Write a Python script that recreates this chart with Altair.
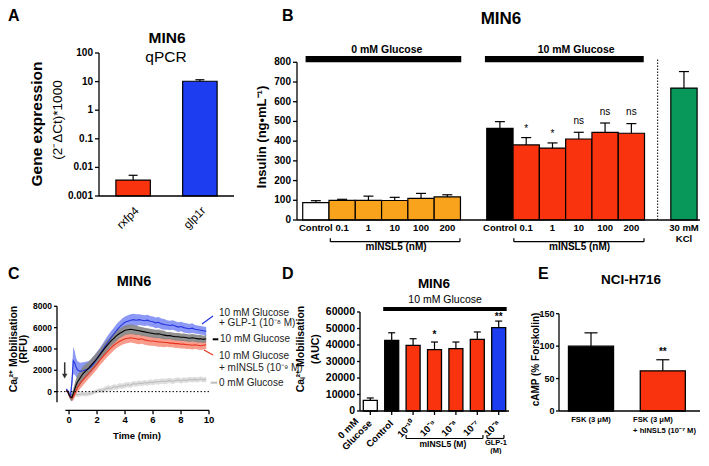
import altair as alt
import pandas as pd

FONT = "Liberation Sans"
BLACK = "#000000"
RED = "#F8330D"
ORANGE = "#F9A21B"
BLUE = "#1C3EF0"
GREEN = "#08985A"
WHITE = "#FFFFFF"

W, H = 693, 446   # whole drawing, in page pixels (origin = page (8, 8))

# ---------------- Panel A data ----------------
a_genes = ["rxfp4", "glp1r"]
a_values = [0.0036, 10.3]
a_errors = [0.0053, 11.6]
a_fills = [RED, BLUE]
a_ticks = [0.001, 0.01, 0.1, 1, 10, 100]
a_tick_labels = ["0.001", "0.01", "0.1", "1", "10", "100"]

# ---------------- Panel B data ----------------
b_slots = [0, 1, 2, 3, 4, 5, 7, 8, 9, 10, 11, 12, 14]
b_labels = ["Control", "0.1", "1", "10", "100", "200",
            "Control", "0.1", "1", "10", "100", "200", "30 mM"]
b_values = [88, 100, 100, 99, 110, 117, 465, 381, 365, 411, 445, 440, 669]
b_errors = [98, 105, 121, 115, 135, 128, 499, 418, 391, 445, 492, 489, 753]
b_fills = [WHITE, ORANGE, ORANGE, ORANGE, ORANGE, ORANGE,
           BLACK, RED, RED, RED, RED, RED, GREEN]
b_yticks = [0, 100, 200, 300, 400, 500, 600, 700, 800]
b_sig_slots = [8.5, 9.5, 10.5, 11.5, 12.5]
b_sig_text = ["*", "*", "ns", "ns", "ns"]
b_sig_y = [461, 436, 503, 549, 549]
b_head_text = ["0 mM Glucose", "10 mM Glucose"]
b_head_x1 = [0.11, 6.93]
b_head_x2 = [6.03, 12.97]
b_head_xc = [3.2, 10.4]
b_brk_x1 = [1.05, 8.03]
b_brk_x2 = [5.98, 12.98]
b_brk_xc = [3.55, 10.53]
b_brk_text = ["mINSL5 (nM)", "mINSL5 (nM)"]

# ---------------- Panel C data ----------------
c_time = [-0.2, -0.1, 0.0, 0.1, 0.2, 0.3, 0.4, 0.5, 0.6, 0.8,
          1.0, 1.2, 1.4, 1.6, 1.8, 2.0, 2.2, 2.4, 2.6, 2.8,
          3.0, 3.2, 3.4, 3.6, 3.8, 4.0, 4.2, 4.4, 4.6, 4.8,
          5.0, 5.2, 5.4, 5.6, 5.8, 6.0, 6.2, 6.4, 6.6, 6.8,
          7.0, 7.2, 7.4, 7.6, 7.8, 8.0, 8.2, 8.4, 8.6, 8.8,
          9.0, 9.2, 9.4, 9.6, 9.8]
c_glp1 = [200, 100, -200, -400, 800, 2900, 2700, 2300, 2050, 1900,
          1950, 2050, 2150, 2350, 2700, 3100, 3500, 3900, 4300, 4700,
          5050, 5400, 5750, 6050, 6300, 6500, 6600, 6700, 6750, 6700,
          6750, 6700, 6650, 6700, 6600, 6550, 6450, 6500, 6350, 6300,
          6250, 6200, 6250, 6150, 6050, 6100, 6000, 5950, 5900, 5950,
          5850, 5800, 5750, 5700, 5650]
c_glp1_sem = [150, 150, 200, 300, 600, 1300, 1100, 900, 800, 800,
              800, 750, 700, 700, 650, 650, 600, 600, 600, 600,
              600, 600, 600, 550, 550, 550, 550, 550, 550, 550,
              500, 500, 500, 500, 500, 500, 500, 500, 500, 500,
              450, 450, 450, 450, 450, 450, 450, 450, 450, 450,
              400, 400, 400, 400, 400]
c_gluc = [100, 0, -300, -500, -550, -200, 200, 600, 900, 1300,
          1700, 1950, 2200, 2500, 2800, 3100, 3450, 3800, 4150, 4450,
          4750, 5000, 5250, 5450, 5600, 5750, 5800, 5850, 5800, 5750,
          5700, 5650, 5600, 5550, 5500, 5450, 5400, 5420, 5350, 5300,
          5250, 5250, 5200, 5150, 5150, 5100, 5100, 5050, 5000, 5050,
          5000, 4950, 4950, 4900, 4950]
c_gluc_sem = [100, 100, 200, 300, 350, 450, 550, 600, 650, 650,
              650, 650, 600, 600, 600, 600, 550, 550, 550, 500,
              500, 500, 500, 450, 450, 450, 450, 450, 450, 450,
              400, 400, 400, 400, 400, 400, 400, 400, 400, 400,
              350, 350, 350, 350, 350, 350, 350, 350, 350, 350,
              350, 350, 350, 350, 350]
c_insl5 = [100, 0, -300, -550, -650, -500, -200, 100, 400, 800,
           1100, 1400, 1700, 2000, 2300, 2600, 2950, 3250, 3550, 3850,
           4100, 4350, 4550, 4700, 4850, 4950, 5000, 5050, 5000, 4950,
           4900, 4950, 4850, 4800, 4750, 4750, 4700, 4650, 4650, 4600,
           4600, 4550, 4550, 4500, 4500, 4450, 4450, 4400, 4400, 4350,
           4400, 4350, 4300, 4350, 4400]
c_insl5_sem = [100, 100, 150, 200, 250, 300, 350, 400, 450, 500,
               500, 500, 500, 500, 500, 500, 500, 500, 500, 500,
               500, 500, 450, 450, 450, 450, 450, 450, 450, 450,
               450, 450, 450, 450, 450, 450, 450, 450, 450, 450,
               400, 400, 400, 400, 400, 400, 400, 400, 400, 400,
               400, 400, 400, 400, 400]
c_zero = [100, 0, -100, -200, -300, -250, -200, -250, -300, -250,
          -200, -250, -200, -150, -50, 50, 150, 100, 250, 350,
          300, 450, 400, 550, 500, 600, 650, 600, 750, 700,
          800, 750, 850, 800, 900, 850, 950, 900, 1000, 950,
          1000, 1050, 950, 1050, 1100, 1000, 1100, 1050, 1150, 1100,
          1150, 1100, 1200, 1100, 1150]
c_zero_sem = [100, 100, 150, 200, 200, 200, 200, 200, 200, 200,
              200, 200, 200, 200, 200, 200, 200, 250, 250, 250,
              250, 250, 250, 250, 250, 250, 250, 250, 250, 250,
              250, 250, 250, 250, 250, 250, 250, 250, 250, 250,
              250, 250, 250, 250, 250, 250, 250, 250, 250, 250,
              250, 250, 250, 250, 250]
c_xticks = [0, 2, 4, 6, 8, 10]
c_yticks = [0, 2000, 4000, 6000, 8000]

# ---------------- Panel D data ----------------
d_slots = [0, 1, 2, 3, 4, 5, 6]
d_labels = ["Glucose", "Control", "10⁻¹⁰", "10⁻⁹", "10⁻⁸", "10⁻⁷", "10⁻⁸"]
d_values = [6500, 42800, 39800, 37200, 37800, 43400, 50500]
d_errors = [7900, 47400, 43800, 41800, 41800, 47900, 54500]
d_fills = [WHITE, BLACK, RED, RED, RED, RED, BLUE]
d_sig_slots = [3.327, 6.327]
d_sig_text = ["*", "**"]
d_sig_y = [46000, 57000]
d_brk_x1 = [2.0, 5.78]
d_brk_x2 = [5.59, 6.57]
d_yticks = [0, 10000, 20000, 30000, 40000, 50000, 60000]

# ---------------- Panel E data ----------------
e_slots = [0, 1]
e_values = [100, 62]
e_errors = [120.5, 79]
e_fills = [BLACK, RED]
e_yticks = [0, 50, 100, 150]

BW_D = 0.654
BW_E = 0.6276
DY = 3  # bottom row vertical offset (kept small so the page fits the window)


def T(text, x, y, size=10, weight="bold", angle=0, align="center",
      baseline="middle", color=BLACK):
    kw = dict(font=FONT, fontSize=size, fontWeight=weight, align=align,
              baseline=baseline, color=color)
    if angle:
        kw["angle"] = angle
    return alt.Chart(pd.DataFrame({"t": [text]})).mark_text(**kw).encode(
        x=alt.value(x), y=alt.value(y), text="t:N")


def seg(x1, y1, x2, y2, color=BLACK, width=1.3):
    return alt.Chart(pd.DataFrame({"d": [0]})).mark_rule(
        color=color, strokeWidth=width).encode(
        x=alt.value(x1), y=alt.value(y1), x2=alt.value(x2), y2=alt.value(y2))


def X(field, scale, **kw):
    return alt.X(field, scale=scale, axis=None, **kw)


def Y(field, scale):
    return alt.Y(field, scale=scale, axis=None)


def y_axis(scale, x0, ticks, labels, lo, hi, size=10, tick=4, pad=2):
    """Prism-style left axis drawn through the panel's y scale."""
    line = alt.Chart(pd.DataFrame({"a": [lo], "b": [hi]})).mark_rule(
        strokeWidth=1.3, color=BLACK).encode(x=alt.value(x0), y=Y("a:Q", scale), y2="b:Q")
    tdf = pd.DataFrame({"v": ticks, "l": labels})
    tk = alt.Chart(tdf).mark_rule(strokeWidth=1.3, color=BLACK).encode(
        x=alt.value(x0 - tick), x2=alt.value(x0), y=Y("v:Q", scale))
    lb = alt.Chart(tdf).mark_text(font=FONT, fontSize=size, fontWeight="bold",
                                  align="right", baseline="middle").encode(
        x=alt.value(x0 - tick - pad), y=Y("v:Q", scale), text="l:N")
    return [line, tk, lb]


# ================= Panel A =================
scA_x = alt.Scale(domain=a_genes, range=[91, 226], paddingInner=0.484, paddingOuter=0.253)
scA_y = alt.Scale(type="log", domain=[0.001, 100], range=[188, 45], nice=False)
a_df = pd.DataFrame({"gene": a_genes, "val": a_values, "err": a_errors,
                     "fill": a_fills, "base": [0.001] * len(a_genes)})
a_bars = alt.Chart(a_df).mark_bar(stroke=BLACK, strokeWidth=1.2).encode(
    x=X("gene:N", scA_x, sort=a_genes), y=Y("val:Q", scA_y), y2="base:Q",
    fill=alt.Fill("fill:N", scale=None))
a_errl = alt.Chart(a_df).mark_rule(strokeWidth=1.2, color=BLACK).encode(
    x=X("gene:N", scA_x, sort=a_genes), y=Y("val:Q", scA_y), y2="err:Q")
a_cap = alt.Chart(a_df).mark_tick(orient="horizontal", size=9, thickness=1.2,
                                  color=BLACK, opacity=1).encode(
    x=X("gene:N", scA_x, sort=a_genes), y=Y("err:Q", scA_y))
a_xlab = alt.Chart(a_df).mark_text(font=FONT, fontSize=11.5, fontWeight="normal", angle=315,
                                   align="right", baseline="top").encode(
    x=X("gene:N", scA_x, sort=a_genes), y=alt.value(197), text="gene:N")
panelA = alt.layer(
    a_bars, a_errl, a_cap, a_xlab,
    *y_axis(scA_y, 91, a_ticks, a_tick_labels, 0.001, 100),
    seg(91, 188, 226, 188),
    T("A", 0, 13, size=16, align="left", baseline="alphabetic"),
    T("MIN6", 159, 30, size=15.5),
    T("qPCR", 158, 49, size=15.5, weight="normal"),
    T("Gene expression", 29, 116, size=15.5, angle=270),
    T("(2⁻ΔCt)*1000", 50, 112, size=13.5, weight="normal", angle=270),
)

# ================= Panel B =================
scB_x = alt.Scale(domain=[-0.217, 15.11], range=[289, 692], nice=False, zero=False)
scB_y = alt.Scale(domain=[0, 800], range=[212, 54.3], nice=False, zero=False)
b_df = pd.DataFrame({"slot": b_slots, "slot2": [s + 1 for s in b_slots],
                     "mid": [s + 0.5 for s in b_slots], "val": b_values,
                     "err": b_errors, "fill": b_fills, "label": b_labels,
                     "base": [0] * len(b_slots)})
b_bars = alt.Chart(b_df).mark_rect(stroke=BLACK, strokeWidth=1.2).encode(
    x=X("slot:Q", scB_x), x2="slot2:Q", y=Y("val:Q", scB_y), y2="base:Q",
    fill=alt.Fill("fill:N", scale=None))
b_errl = alt.Chart(b_df).mark_rule(strokeWidth=1.2, color=BLACK).encode(
    x=X("mid:Q", scB_x), y=Y("val:Q", scB_y), y2="err:Q")
b_cap = alt.Chart(b_df).mark_tick(orient="horizontal", size=10, thickness=1.2,
                                  color=BLACK, opacity=1).encode(
    x=X("mid:Q", scB_x), y=Y("err:Q", scB_y))
b_xlab = alt.Chart(b_df).mark_text(font=FONT, fontSize=9.5, fontWeight="bold").encode(
    x=X("mid:Q", scB_x), y=alt.value(220), text="label:N")
b_kcl = alt.Chart(pd.DataFrame({"m": [14.5], "t": ["KCl"]})).mark_text(
    font=FONT, fontSize=9.5, fontWeight="bold").encode(
    x=X("m:Q", scB_x), y=alt.value(231), text="t:N")
b_head_df = pd.DataFrame({"x1": b_head_x1, "x2": b_head_x2, "xc": b_head_xc,
                          "t": b_head_text, "y1": [800, 800], "y2": [832, 832],
                          "yc": [862, 862]})
b_head = alt.Chart(b_head_df).mark_rect(color=BLACK).encode(
    x=X("x1:Q", scB_x), x2="x2:Q", y=Y("y1:Q", scB_y), y2="y2:Q")
b_headt = alt.Chart(b_head_df).mark_text(font=FONT, fontSize=10.5, fontWeight="bold").encode(
    x=X("xc:Q", scB_x), y=Y("yc:Q", scB_y), text="t:N")
b_sig = alt.Chart(pd.DataFrame({"x": b_sig_slots, "y": b_sig_y, "t": b_sig_text})).mark_text(
    font=FONT, fontSize=10, fontWeight="normal").encode(
    x=X("x:Q", scB_x), y=Y("y:Q", scB_y), text="t:N")
b_dot = alt.Chart(pd.DataFrame({"x": [13.5], "y1": [0], "y2": [815]})).mark_rule(
    strokeDash=[1.5, 1.5], strokeWidth=1, color=BLACK).encode(
    x=X("x:Q", scB_x), y=Y("y1:Q", scB_y), y2="y2:Q")
b_brk_df = pd.DataFrame({"x1": b_brk_x1, "x2": b_brk_x2, "xc": b_brk_xc, "t": b_brk_text})
b_brk = alt.Chart(b_brk_df).mark_rule(strokeWidth=1.2, color=BLACK).encode(
    x=X("x1:Q", scB_x), x2="x2:Q", y=alt.value(233.7))
b_brk_l = alt.Chart(b_brk_df).mark_rule(strokeWidth=1.2, color=BLACK).encode(
    x=X("x1:Q", scB_x), y=alt.value(230.3), y2=alt.value(233.7))
b_brk_r = alt.Chart(b_brk_df).mark_rule(strokeWidth=1.2, color=BLACK).encode(
    x=X("x2:Q", scB_x), y=alt.value(230.3), y2=alt.value(233.7))
b_brk_t = alt.Chart(b_brk_df).mark_text(font=FONT, fontSize=10, fontWeight="bold").encode(
    x=X("xc:Q", scB_x), y=alt.value(238.5), text="t:N")
panelB = alt.layer(
    b_bars, b_errl, b_cap, b_xlab, b_kcl, b_head, b_headt, b_sig, b_dot,
    b_brk, b_brk_l, b_brk_r, b_brk_t,
    *y_axis(scB_y, 289, b_yticks, [str(v) for v in b_yticks], 0, 800),
    seg(289, 212, 692, 212),
    T("B", 274, 13, size=16, align="left", baseline="alphabetic"),
    T("MIN6", 493, 10.5, size=17),
    T("Insulin (ng•mL⁻¹)", 254, 129, size=13, angle=270),
)

# ================= Panel C =================
scC_x = alt.Scale(domain=[-0.86, 10], range=[49, 201], nice=False, zero=False)
scC_y = alt.Scale(domain=[-1000, 8000], range=[391.3 + DY, 295.3 + DY], nice=False, zero=False)


def series_df(vals, sems):
    return pd.DataFrame({"t": c_time, "v": vals,
                         "lo": [v - s for v, s in zip(vals, sems)],
                         "hi": [v + s for v, s in zip(vals, sems)]})


def band(df, color):
    return alt.Chart(df).mark_area(color=color, opacity=0.9).encode(
        x=X("t:Q", scC_x), y=Y("lo:Q", scC_y), y2="hi:Q")


def line(df, color, w=1.1):
    return alt.Chart(df).mark_line(color=color, strokeWidth=w).encode(
        x=X("t:Q", scC_x), y=Y("v:Q", scC_y))


df_glp = series_df(c_glp1, c_glp1_sem)
df_glu = series_df(c_gluc, c_gluc_sem)
df_ins = series_df(c_insl5, c_insl5_sem)
df_zero = series_df(c_zero, c_zero_sem)

CXY = 399.3 + DY  # pixel row of the (offset) time axis
c_xline = alt.Chart(pd.DataFrame({"a": [-0.26], "b": [10]})).mark_rule(
    strokeWidth=1.3, color=BLACK).encode(x=X("a:Q", scC_x), x2="b:Q", y=alt.value(CXY))
c_xt_df = pd.DataFrame({"v": c_xticks, "l": [str(v) for v in c_xticks]})
c_xtick = alt.Chart(c_xt_df).mark_rule(strokeWidth=1.3, color=BLACK).encode(
    x=X("v:Q", scC_x), y=alt.value(CXY), y2=alt.value(CXY + 4))
c_xlab = alt.Chart(c_xt_df).mark_text(font=FONT, fontSize=9.5, fontWeight="bold",
                                      baseline="top").encode(
    x=X("v:Q", scC_x), y=alt.value(CXY + 5), text="l:N")
c_zero_line = alt.Chart(pd.DataFrame({"a": [-0.86], "b": [10], "y": [0]})).mark_rule(
    strokeWidth=1, color=BLACK, strokeDash=[1.5, 2]).encode(
    x=X("a:Q", scC_x), x2="b:Q", y=Y("y:Q", scC_y))
c_arrow = alt.Chart(pd.DataFrame({"x": [-0.31], "y1": [2750], "y2": [1500]})).mark_rule(
    strokeWidth=1.5, color="#333333").encode(
    x=X("x:Q", scC_x), y=Y("y1:Q", scC_y), y2="y2:Q")
c_arrowhead = alt.Chart(pd.DataFrame({"x": [-0.31], "y": [1450]})).mark_point(
    shape="triangle-down", filled=True, size=30, color="#333333", opacity=1).encode(
    x=X("x:Q", scC_x), y=Y("y:Q", scC_y))

LEG = "#222222"
panelC = alt.layer(
    band(df_zero, "#DCDCDC"), line(df_zero, "#BDBDBD"),
    band(df_glp, "#7F8DF4"), band(df_ins, "#F7917F"), band(df_glu, "#858585"),
    line(df_glp, "#2536E0"), line(df_ins, "#E8321E"), line(df_glu, BLACK),
    c_zero_line, c_xline, c_xtick, c_xlab, c_arrow, c_arrowhead,
    *y_axis(scC_y, 49, c_yticks, [str(v) for v in c_yticks], -1000, 8000, size=8.5, tick=3),
    T("C", 0, 268 + DY, size=16, align="left", baseline="alphabetic"),
    T("MIN6", 126, 271 + DY, size=14.5),
    T("Caᵢ²⁺ Mobilisation", 5.5, 338 + DY, size=10.5, angle=270),
    T("(RFU)", 16, 338 + DY, size=10.5, angle=270),
    T("Time (min)", 129, 425 + DY, size=9.5),
    T("10 mM Glucose", 211, 301.7 + DY, weight="normal", align="left", color=LEG),
    T("+ GLP-1 (10⁻⁸ M)", 211, 311.7 + DY, weight="normal", align="left", color=LEG),
    T("10 mM Glucose", 212, 328.3 + DY, weight="normal", align="left", color=LEG),
    T("10 mM Glucose", 211, 345.3 + DY, weight="normal", align="left", color=LEG),
    T("+ mINSL5 (10⁻⁹ M)", 211, 357 + DY, weight="normal", align="left", color=LEG),
    T("0 mM Glucose", 211, 371.7 + DY, weight="normal", align="left", color=LEG),
    seg(194, 313 + DY, 205, 305 + DY, color="#2536E0", width=1.2),
    seg(204.7, 328.3 + DY, 210.3, 328.3 + DY, color=BLACK, width=2),
    seg(196, 339 + DY, 205, 344 + DY, color="#E8321E", width=1.2),
    seg(202.7, 371.7 + DY, 209.3, 371.7 + DY, color="#BDBDBD", width=2),
)

# ================= Panel D =================
DB = 400 + DY  # pixel row of panel D/E baselines
d_mids = [s + BW_D / 2 for s in d_slots]
scD_x = alt.Scale(domain=[-0.154, 6.808], range=[352, 501], nice=False, zero=False)
scD_y = alt.Scale(domain=[0, 60000], range=[DB, DB - 99], nice=False, zero=False)
d_df = pd.DataFrame({"slot": d_slots, "slot2": [s + BW_D for s in d_slots],
                     "mid": d_mids, "val": d_values,
                     "err": d_errors, "fill": d_fills, "label": d_labels,
                     "base": [0] * len(d_slots)})
d_bars = alt.Chart(d_df).mark_rect(stroke=BLACK, strokeWidth=1.3).encode(
    x=X("slot:Q", scD_x), x2="slot2:Q", y=Y("val:Q", scD_y), y2="base:Q",
    fill=alt.Fill("fill:N", scale=None))
d_errl = alt.Chart(d_df).mark_rule(strokeWidth=1.2, color=BLACK).encode(
    x=X("mid:Q", scD_x), y=Y("val:Q", scD_y), y2="err:Q")
d_cap = alt.Chart(d_df).mark_tick(orient="horizontal", size=7, thickness=1.2,
                                  color=BLACK, opacity=1).encode(
    x=X("mid:Q", scD_x), y=Y("err:Q", scD_y))
d_xtick = alt.Chart(d_df).mark_rule(strokeWidth=1.3, color=BLACK).encode(
    x=X("mid:Q", scD_x), y=alt.value(DB), y2=alt.value(DB + 4))
d_xlab = alt.Chart(d_df).mark_text(font=FONT, fontSize=9.5, fontWeight="bold", angle=315,
                                   align="right", baseline="middle").encode(
    x=X("mid:Q", scD_x), y=alt.value(DB + 11), text="label:N")
d_xlab0 = alt.Chart(pd.DataFrame({"m": [BW_D / 2], "t": ["0 mM"]})).mark_text(
    font=FONT, fontSize=9.5, fontWeight="bold", angle=315, align="right",
    baseline="middle", dx=-8, dy=-11).encode(
    x=X("m:Q", scD_x), y=alt.value(DB + 11), text="t:N")
d_head = alt.Chart(pd.DataFrame({"x1": [0.93], "x2": [6.70], "y1": [60600], "y2": [63000]})).mark_rect(
    color=BLACK).encode(x=X("x1:Q", scD_x), x2="x2:Q", y=Y("y1:Q", scD_y), y2="y2:Q")
d_headt = alt.Chart(pd.DataFrame({"x": [3.82], "y": [67090], "t": ["10 mM Glucose"]})).mark_text(
    font=FONT, fontSize=10.5, fontWeight="normal").encode(
    x=X("x:Q", scD_x), y=Y("y:Q", scD_y), text="t:N")
d_sig = alt.Chart(pd.DataFrame({"x": d_sig_slots, "y": d_sig_y, "t": d_sig_text})).mark_text(
    font=FONT, fontSize=10, fontWeight="bold").encode(
    x=X("x:Q", scD_x), y=Y("y:Q", scD_y), text="t:N")
BRK = DB + 27.5
d_brk_df = pd.DataFrame({"x1": d_brk_x1, "x2": d_brk_x2})
d_brk = alt.Chart(d_brk_df).mark_rule(strokeWidth=1.2, color=BLACK).encode(
    x=X("x1:Q", scD_x), x2="x2:Q", y=alt.value(BRK))
d_brk_l = alt.Chart(d_brk_df).mark_rule(strokeWidth=1.2, color=BLACK).encode(
    x=X("x1:Q", scD_x), y=alt.value(BRK - 3.5), y2=alt.value(BRK))
d_brk_r = alt.Chart(d_brk_df).mark_rule(strokeWidth=1.2, color=BLACK).encode(
    x=X("x2:Q", scD_x), y=alt.value(BRK - 3.5), y2=alt.value(BRK))


def dtext(xv, yv, text, size=8.5):
    return alt.Chart(pd.DataFrame({"x": [xv], "t": [text]})).mark_text(
        font=FONT, fontSize=size, fontWeight="bold").encode(
        x=X("x:Q", scD_x), y=alt.value(yv), text="t:N")


panelD = alt.layer(
    d_bars, d_errl, d_cap, d_xtick, d_xlab, d_xlab0, d_head, d_headt, d_sig,
    d_brk, d_brk_l, d_brk_r,
    *y_axis(scD_y, 352, d_yticks, [str(v) for v in d_yticks], 0, 60000, size=10.5, tick=3),
    seg(352, DB, 501, DB),
    dtext(3.72, BRK + 5, "mINSL5 (M)"), dtext(6.2, BRK + 4.5, "GLP-1", 7.5),
    dtext(6.2, BRK + 12, "(M)", 7.5),
    T("D", 274, 268 + DY, size=16, align="left", baseline="alphabetic"),
    T("MIN6", 426, 273 + DY, size=13.5),
    T("Caᵢ²⁺ Mobilisation", 293, 338 + DY, size=10.5, angle=270),
    T("(AUC)", 307.5, 338 + DY, size=10.5, angle=270),
)

# ================= Panel E =================
scE_x = alt.Scale(domain=[-0.132, 1.832], range=[551, 692], nice=False, zero=False)
scE_y = alt.Scale(domain=[0, 150], range=[DB, DB - 97.3], nice=False, zero=False)
e_df = pd.DataFrame({"slot": e_slots, "slot2": [s + BW_E for s in e_slots],
                     "mid": [s + BW_E / 2 for s in e_slots], "val": e_values,
                     "err": e_errors, "fill": e_fills, "base": [0, 0]})
e_bars = alt.Chart(e_df).mark_rect(stroke=BLACK, strokeWidth=1.3).encode(
    x=X("slot:Q", scE_x), x2="slot2:Q", y=Y("val:Q", scE_y), y2="base:Q",
    fill=alt.Fill("fill:N", scale=None))
e_errl = alt.Chart(e_df).mark_rule(strokeWidth=1.2, color=BLACK).encode(
    x=X("mid:Q", scE_x), y=Y("val:Q", scE_y), y2="err:Q")
e_cap = alt.Chart(e_df).mark_tick(orient="horizontal", size=13, thickness=1.2,
                                  color=BLACK, opacity=1).encode(
    x=X("mid:Q", scE_x), y=Y("err:Q", scE_y))
e_sig = alt.Chart(pd.DataFrame({"x": [1 + BW_E / 2], "y": [91], "t": ["**"]})).mark_text(
    font=FONT, fontSize=10, fontWeight="bold").encode(
    x=X("x:Q", scE_x), y=Y("y:Q", scE_y), text="t:N")


def etext(xv, yv, text, align="center"):
    return alt.Chart(pd.DataFrame({"x": [xv], "t": [text]})).mark_text(
        font=FONT, fontSize=7.6, fontWeight="bold", align=align).encode(
        x=X("x:Q", scE_x), y=alt.value(yv), text="t:N")


panelE = alt.layer(
    e_bars, e_errl, e_cap, e_sig,
    *y_axis(scE_y, 551, e_yticks, [str(v) for v in e_yticks], 0, 150, size=9, tick=3, pad=1.5),
    seg(551, DB, 692, DB),
    etext(BW_E / 2, DB + 9, "FSK (3 μM)"),
    etext(0.90, DB + 9, "FSK (3 μM)", align="left"),
    etext(0.90, DB + 20, "+ hINSL5 (10⁻⁷ M)", align="left"),
    T("E", 530, 268 + DY, size=16, align="left", baseline="alphabetic"),
    T("NCI-H716", 623, 269 + DY, size=13.5),
    T("cAMP (% Forskolin)", 527.5, 348.5 + DY, size=10, angle=270),
)

# ================= Assembly =================
chart = alt.layer(panelA, panelB, panelC, panelD, panelE).resolve_scale(
    x="independent", y="independent"
).properties(
    width=W, height=H, padding=0, background="white",
    autosize=alt.AutoSizeParams(type="none")
).configure_view(strokeWidth=0)

chart.save("out.html", embed_options={"renderer": "svg", "actions": False})
